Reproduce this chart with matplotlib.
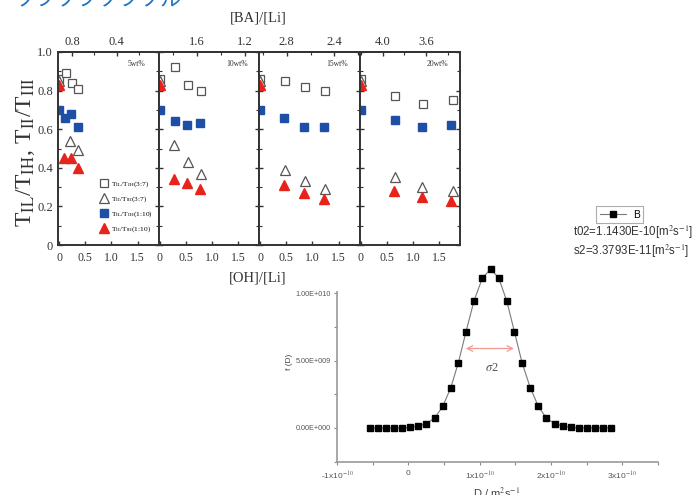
import matplotlib
matplotlib.use("Agg")
import matplotlib.pyplot as plt
from matplotlib.patches import Rectangle
from matplotlib.ticker import MultipleLocator

plt.rcParams['font.family'] = ['Liberation Serif', 'DejaVu Serif']
plt.rcParams['mathtext.fontset'] = 'stix'

W, H = 697, 495

# ---- top figure: four panels, x = [OH]/[Li]
wt_labels = ["5wt%", "10wt%", "15wt%", "20wt%"]

sq_open_x = [[0, 0.13, 0.25, 0.36], [0, 0.30, 0.55, 0.80], [0, 0.47, 0.85, 1.25], [0, 0.66, 1.20, 1.77]]
sq_open_y = [[0.86, 0.89, 0.84, 0.81], [0.86, 0.92, 0.83, 0.80], [0.86, 0.85, 0.82, 0.80], [0.86, 0.77, 0.73, 0.75]]
tri_open_x = [[0, 0.21, 0.36], [0, 0.27, 0.55, 0.80], [0, 0.47, 0.85, 1.25], [0, 0.66, 1.18, 1.77]]
tri_open_y = [[0.85, 0.54, 0.49], [0.85, 0.52, 0.43, 0.37], [0.85, 0.39, 0.33, 0.29], [0.85, 0.35, 0.30, 0.28]]
sq_blue_x = [[0, 0.11, 0.23, 0.36], [0, 0.30, 0.53, 0.78], [0, 0.46, 0.84, 1.23], [0, 0.65, 1.18, 1.73]]
sq_blue_y = [[0.70, 0.66, 0.68, 0.61], [0.70, 0.64, 0.62, 0.63], [0.70, 0.66, 0.61, 0.61], [0.70, 0.65, 0.61, 0.62]]
tri_red_x = [[0, 0.10, 0.23, 0.36], [0, 0.28, 0.53, 0.78], [0, 0.46, 0.84, 1.23], [0, 0.63, 1.18, 1.73]]
tri_red_y = [[0.83, 0.45, 0.45, 0.40], [0.83, 0.34, 0.32, 0.29], [0.83, 0.31, 0.27, 0.24], [0.83, 0.28, 0.25, 0.23]]

legend_labels = [r"T$_{\rm IL}$/T$_{\rm IH}$(3:7)", r"T$_{\rm II}$/T$_{\rm III}$(3:7)",
                 r"T$_{\rm IL}$/T$_{\rm IH}$(1:10)", r"T$_{\rm II}$/T$_{\rm III}$(1:10)"]

# top axis [BA]/[Li]: labelled ticks and two (BA, OH) anchors per panel
ba_major = [[0.8, 0.4], [1.6, 1.2], [2.8, 2.4], [4.0, 3.6]]
ba_anchor = [[0.8, 0.4], [1.6, 1.2], [2.8, 2.4], [4.0, 3.6]]
oh_anchor = [[0.25, 1.10], [0.72, 1.63], [0.51, 1.42], [0.42, 1.25]]

oh_ticks = [0, 0.5, 1.0, 1.5]
oh_tick_labels = ["0", "0.5", "1.0", "1.5"]
y_ticks = [0, 0.2, 0.4, 0.6, 0.8, 1.0]
y_tick_labels = ["0", "0.2", "0.4", "0.6", "0.8", "1.0"]

# ---- bottom figure: distribution f(D)
D_vals = [-0.542, -0.425, -0.313, -0.201, -0.089, 0.028, 0.140, 0.252, 0.369, 0.482, 0.594,
          0.701, 0.809, 0.921, 1.038, 1.155, 1.267, 1.379, 1.487, 1.594, 1.711, 1.823, 1.935,
          2.052, 2.165, 2.277, 2.389, 2.501, 2.613, 2.726, 2.838]          # x 1e-10
f_vals = [0, 0, 0, 0, 0, 0.005, 0.015, 0.032, 0.074, 0.16, 0.296, 0.484, 0.714, 0.943, 1.111,
          1.178, 1.111, 0.943, 0.714, 0.484, 0.296, 0.16, 0.074, 0.032, 0.015, 0.005,
          0, 0, 0, 0, 0]                                                  # x 1e10
t02 = 1.1430e-10
s2 = 3.3793e-11
D_ticks = [-1e-10, 0, 1e-10, 2e-10, 3e-10]
D_tick_labels = [r"-1x10$^{-10}$", "0", r"1x10$^{-10}$", r"2x10$^{-10}$", r"3x10$^{-10}$"]
f_ticks = [0, 5e9, 1e10]
f_tick_labels = ["0.00E+000", "5.00E+009", "1.00E+010"]

fig = plt.figure(figsize=(W / 100, H / 100), dpi=100)

# bottom chart first (it sits under the top one)
axb = fig.add_axes([337 / W, 1 - 462 / H, 321 / W, 200 / H])
axb.set_zorder(0)
D = [d * 1e-10 for d in D_vals]
F = [v * 1e10 for v in f_vals]
axb.plot(D, F, color='#7a7a7a', lw=0.8, marker='s', ms=4.3, mfc='black', mec='black', label="B")
axb.set_xlim(-1e-10, 3.5e-10)
axb.set_ylim(-0.252e10, 1.23e10)
for s in ['top', 'right']:
    axb.spines[s].set_visible(False)
for s in ['left', 'bottom']:
    axb.spines[s].set_color('#9a9a9a')
    axb.spines[s].set_linewidth(1.2)
axb.set_xticks(D_ticks, labels=D_tick_labels)
axb.xaxis.set_minor_locator(MultipleLocator(0.5e-10))
axb.set_yticks(f_ticks, labels=f_tick_labels)
axb.yaxis.set_minor_locator(MultipleLocator(0.25e10))
axb.tick_params(which='both', direction='out', color='#888888',
                labelcolor='#555555', length=2.5, width=0.8)
axb.tick_params(axis='x', labelsize=6, pad=3)
axb.tick_params(axis='y', labelsize=5.2, pad=2)
for lab in axb.get_xticklabels() + axb.get_yticklabels():
    lab.set_family('Liberation Sans')
axb.set_ylabel("f (D)", family='Liberation Sans', fontsize=6, color='#444444', labelpad=2)
axb.annotate('', xy=(t02 - s2, F[15] / 2), xytext=(t02 + s2, F[15] / 2),
             arrowprops=dict(arrowstyle='<->', color='#f19a90', lw=0.9, shrinkA=0, shrinkB=0))
axb.text(t02 + 0.03e-10, 0.444e10, r"$\sigma$2", ha='center', va='center', fontsize=9, color='#555555')
leg_b = axb.legend(loc='upper left', bbox_to_anchor=(591 / W, 1 - 201 / H),
                   bbox_transform=fig.transFigure, frameon=True, fancybox=False,
                   handlelength=2.6, borderpad=0.35, handletextpad=0.7,
                   prop={'family': 'Liberation Sans', 'size': 7.3})
leg_b.get_frame().set_edgecolor('#999999')
leg_b.get_frame().set_linewidth(0.8)
fig.text(573 / W, 1 - 232 / H, "t02=1.1430E-10[m$^2$s$^{-1}$]", family='Liberation Sans',
         fontsize=8.3, color='#333333', va='center')
fig.text(573 / W, 1 - 251 / H, "s2=3.3793E-11[m$^2$s$^{-1}$]", family='Liberation Sans',
         fontsize=8.3, color='#333333', va='center')
fig.text(497 / W, 1 - 486 / H, "D / m$^2$s$^{-1}$", family='Liberation Sans',
         fontsize=8, color='#444444', ha='center', va='top')

# white background of the top figure covering the upper part of the bottom chart
fig.patches.append(Rectangle((0, 1 - 291 / H), 470 / W, 291 / H, transform=fig.transFigure,
                             facecolor='white', edgecolor='none', zorder=1))

lefts = [58, 158.5, 259, 359.5]
for i in range(4):
    ax = fig.add_axes([lefts[i] / W, 1 - 245 / H, 100.5 / W, 193 / H])
    ax.set_zorder(2)
    ax.set_xlim(-0.02, 1.9)
    ax.set_ylim(0, 1.0)
    ax.plot(sq_open_x[i], sq_open_y[i], ls='none', marker='s', ms=5.5, mfc='white',
            mec='#555555', mew=0.9, label=legend_labels[0])
    ax.plot(tri_open_x[i], tri_open_y[i], ls='none', marker='^', ms=7, mfc='white',
            mec='#555555', mew=0.9, label=legend_labels[1])
    ax.plot(sq_blue_x[i], sq_blue_y[i], ls='none', marker='s', ms=6, mfc='#1d4fa6',
            mec='#1d4fa6', label=legend_labels[2])
    ax.plot(tri_red_x[i], tri_red_y[i], ls='none', marker='^', ms=7, mfc='#e8231b',
            mec='#e8231b', label=legend_labels[3])
    for s in ax.spines.values():
        s.set_linewidth(1.4)
        s.set_color('#333333')
    ax.set_xticks(oh_ticks, labels=oh_tick_labels)
    ax.set_yticks(y_ticks, labels=y_tick_labels)
    ax.yaxis.set_minor_locator(MultipleLocator(0.1))
    ax.tick_params(which='both', direction='in', left=True, right=True, top=False,
                   labelsize=9, color='#333333', labelcolor='#333333')
    ax.tick_params(which='major', length=3, width=1)
    ax.tick_params(which='minor', length=2, width=0.8)
    ax.tick_params(axis='x', labelsize=8.5, pad=5)
    if i > 0:
        ax.tick_params(axis='y', labelleft=False)
    ax.text(0.78, 0.94, wt_labels[i], transform=ax.transAxes, fontsize=5.5,
            ha='center', va='center', color='#333333')

    b0, b1 = ba_anchor[i]
    o0, o1 = oh_anchor[i]
    k = (b1 - b0) / (o1 - o0)
    sec = ax.secondary_xaxis('top', functions=(lambda x, b0=b0, o0=o0, k=k: b0 + (x - o0) * k,
                                               lambda x, b0=b0, o0=o0, k=k: o0 + (x - b0) / k))
    sec.set_xticks(ba_major[i], labels=[f"{v:.1f}" for v in ba_major[i]])
    sec.xaxis.set_minor_locator(MultipleLocator(0.2))
    sec.tick_params(which='both', direction='in', labelsize=9, color='#333333',
                    labelcolor='#333333', pad=3)
    sec.tick_params(which='major', length=3, width=1)
    sec.tick_params(which='minor', length=2, width=0.8)
    sec.spines['top'].set_linewidth(1.4)
    sec.spines['top'].set_color('#333333')
    if i == 0:
        ax.legend(loc='lower right', bbox_to_anchor=(0.97, 0.04), fontsize=5.3, frameon=False,
                  handletextpad=0.3, labelspacing=0.75, borderaxespad=0, handlelength=1.2)

fig.text(258 / W, 1 - 18 / H, "[BA]/[Li]", fontsize=10.5, ha='center', va='center', color='#333333')
fig.text(258 / W, 1 - 278 / H, "[OH]/[Li]", fontsize=10.5, ha='center', va='center', color='#333333')
fig.text(26 / W, 1 - 152 / H, r"T$_{\rm IL}$/T$_{\rm IH}$, T$_{\rm II}$/T$_{\rm III}$",
         fontsize=17, rotation=90, ha='center', va='center', color='#333333')
fig.text(14 / W, 1 - 6 / H, "ソフソフソフソル", family=['Noto Sans CJK JP', 'DejaVu Sans'],
         fontsize=15, color='#1b73c6', va='baseline')

fig.savefig("out.png", dpi=100)
